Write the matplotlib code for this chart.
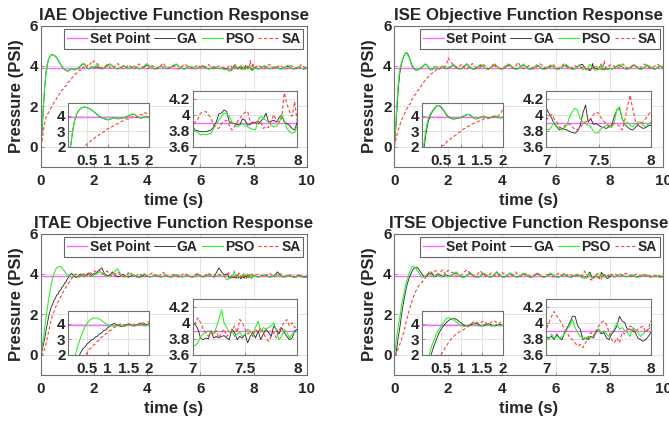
import numpy as np
import matplotlib
matplotlib.use("Agg")
import matplotlib.pyplot as plt
from matplotlib.ticker import FuncFormatter

plt.rcParams["font.family"] = ["Liberation Sans", "DejaVu Sans"]
plt.rcParams["font.weight"] = "bold"

# time segments the samples below belong to: 0-2 s, 2.1-6.9 s, 7-8 s, 8.1-10 s
SEG_SPANS = [(0.0, 2.0), (2.1, 6.9), (7.0, 8.0), (8.1, 10.0)]
SETPOINT = 3.9
TITLES = ["IAE Objective Function Response", "ISE Objective Function Response",
          "ITAE Objective Function Response", "ITSE Objective Function Response"]
LABELS = ["Set Point", "GA", "PSO", "SA"]

# ---------------- IAE ----------------
iae_ga = [
    [0, 0.8, 1.9, 2.9, 3.65, 4.08, 4.33, 4.47, 4.54, 4.56, 4.53, 4.48, 4.4, 4.3, 4.18, 4.06, 3.96, 3.88, 3.82, 3.78,
     3.74, 3.76, 3.82, 3.87, 3.85, 3.8, 3.82, 3.85, 3.88, 3.93, 3.98, 4.05, 4.1, 4.08, 3.98, 3.89, 3.85, 3.88, 3.94, 3.96, 3.9],
    [3.95, 3.9, 3.85, 3.92, 4.02, 4.1, 3.98, 3.88, 3.86, 3.92, 4.0, 3.95, 3.88, 3.9, 3.97, 3.93, 3.86, 3.9, 3.96, 4.05,
     3.98, 3.9, 3.87, 3.92, 3.98, 3.94, 3.88, 3.9, 3.95, 4.0, 4.08, 3.96, 3.9, 3.86, 3.92, 3.97, 3.93, 3.87, 3.9, 3.95,
     3.99, 3.92, 3.86, 3.89, 3.95, 3.91, 3.87, 3.9, 3.86],
    [3.85, 3.81, 3.80, 3.79, 3.79, 3.79, 3.80, 3.81, 3.85, 3.91, 4.01, 4.02, 4.06, 4.04, 3.91, 3.90, 3.89, 3.88, 3.87, 3.95,
     3.93, 3.87, 3.88, 3.91, 3.90, 3.89, 3.92, 3.95, 4.02, 3.91, 3.92, 3.93, 3.91, 3.96, 4.00, 3.91, 3.89, 3.87, 3.83, 3.81, 3.91],
    [3.9, 3.86, 3.92, 3.98, 3.93, 3.87, 3.9, 3.95, 3.92, 3.86, 3.88, 3.95, 3.98, 3.9, 3.86, 3.9, 3.94, 3.88, 3.85, 3.9],
]
iae_pso = [
    [0, 0.9, 2.0, 3.0, 3.7, 4.1, 4.35, 4.48, 4.55, 4.55, 4.52, 4.47, 4.4, 4.3, 4.2, 4.08, 3.98, 3.9, 3.83, 3.8,
     3.76, 3.78, 3.83, 3.88, 3.86, 3.82, 3.84, 3.86, 3.9, 3.95, 4.0, 4.08, 4.12, 4.1, 4.0, 3.9, 3.86, 3.9, 3.96, 3.98, 3.92],
    [4.05, 3.95, 3.85, 3.88, 3.98, 4.08, 4.0, 3.88, 3.84, 3.9, 4.02, 3.97, 3.86, 3.88, 4.0, 3.95, 3.85, 3.88, 4.02, 4.12,
     3.98, 3.88, 3.84, 3.9, 4.0, 3.95, 3.86, 3.88, 3.96, 4.04, 4.1, 3.97, 3.88, 3.84, 3.9, 3.99, 3.94, 3.85, 3.88, 3.97,
     4.02, 3.93, 3.84, 3.87, 3.98, 3.92, 3.85, 3.88, 3.82],
    [3.83, 3.80, 3.78, 3.75, 3.76, 3.75, 3.76, 3.77, 3.83, 3.89, 3.93, 3.98, 4.02, 4.01, 3.98, 3.91, 3.88, 3.85, 3.87, 3.89,
     3.87, 3.85, 3.83, 3.82, 3.81, 3.93, 3.98, 3.96, 3.93, 3.91, 3.87, 3.85, 3.86, 3.89, 4.00, 3.93, 3.83, 3.79, 3.77, 3.78, 3.87],
    [3.88, 3.84, 3.9, 4.02, 3.95, 3.85, 3.88, 3.98, 3.92, 3.84, 3.86, 3.96, 4.04, 3.9, 3.84, 3.88, 3.96, 3.88, 3.84, 3.88],
]
iae_sa = [
    [0, 0.3, 0.8, 1.2, 1.45, 1.6, 1.7, 1.85, 1.95, 2.05, 2.2, 2.25, 2.42, 2.45, 2.62, 2.65, 2.82, 2.85, 2.98, 3.0,
     3.18, 3.2, 3.3, 3.35, 3.45, 3.5, 3.6, 3.65, 3.7, 3.8, 3.78, 3.85, 3.95, 3.9, 3.88, 4.0, 4.1, 4.05, 4.2, 4.15, 4.25],
    [4.15, 4.0, 3.88, 3.95, 4.08, 3.92, 3.86, 4.0, 4.12, 3.95, 3.86, 3.9, 4.05, 3.95, 3.85, 3.92, 4.1, 3.98, 3.88, 3.85,
     3.96, 4.02, 3.9, 3.86, 3.98, 4.15, 3.95, 3.87, 3.9, 4.0, 3.92, 3.84, 3.95, 4.1, 4.02, 3.9, 3.86, 3.95, 4.05, 3.93,
     3.87, 3.98, 4.08, 3.95, 3.86, 3.9, 4.0, 3.94, 3.9],
    [3.87, 3.91, 3.95, 4.02, 4.03, 4.04, 4.00, 3.96, 3.87, 3.84, 3.83, 3.89, 3.92, 3.93, 3.87, 3.81, 3.85, 3.91, 3.95, 4.00,
     4.03, 4.04, 3.91, 3.89, 3.91, 3.92, 3.91, 3.83, 3.85, 3.84, 3.93, 4.00, 3.93, 3.91, 3.95, 4.27, 4.14, 4.04, 3.98, 4.16, 3.91],
    [3.95, 4.05, 3.9, 3.86, 3.98, 4.08, 3.92, 3.86, 3.95, 4.05, 3.92, 3.85, 3.9, 4.02, 3.95, 3.86, 3.92, 4.08, 3.95, 3.9],
]

# ---------------- ISE ----------------
ise_ga = [
    [0, 0.8, 1.9, 2.9, 3.6, 4.0, 4.25, 4.45, 4.6, 4.66, 4.6, 4.45, 4.25, 4.05, 3.92, 3.84, 3.8, 3.8, 3.82, 3.86,
     3.9, 3.96, 4.03, 4.08, 4.06, 3.97, 3.87, 3.8, 3.82, 3.88, 3.95, 3.97, 3.91, 3.85, 3.87, 3.93, 3.98, 3.94, 3.88, 3.86, 3.9],
    [3.95, 4.05, 3.95, 3.85, 3.88, 3.98, 4.08, 3.96, 3.86, 3.85, 3.94, 4.04, 3.98, 3.87, 3.85, 3.92, 4.02, 3.97, 3.88, 3.84,
     3.9, 4.0, 4.05, 3.92, 3.85, 3.87, 3.96, 4.06, 3.95, 3.86, 3.84, 3.92, 4.03, 3.96, 3.87, 3.85, 3.93, 4.02, 3.96, 3.86,
     3.84, 3.9, 4.0, 4.04, 3.92, 3.85, 3.86, 3.95, 4.05],
    [4.08, 4.02, 3.96, 3.89, 3.85, 3.81, 3.83, 3.82, 3.81, 3.79, 3.78, 3.77, 3.8, 3.87, 4.02, 4.12, 3.91, 3.95, 3.88, 3.89,
     3.87, 3.85, 3.84, 3.83, 3.85, 3.87, 3.98, 4.06, 4.08, 3.95, 3.88, 3.85, 3.82, 3.81, 3.84, 3.87, 3.85, 3.83, 3.84, 3.86, 3.87],
    [3.85, 3.9, 4.0, 4.05, 3.92, 3.85, 3.86, 3.95, 4.05, 3.95, 3.86, 3.85, 3.92, 4.03, 3.96, 3.87, 3.85, 3.93, 3.98, 3.88],
]
ise_pso = [
    [0, 1.0, 2.2, 3.2, 3.8, 4.1, 4.3, 4.5, 4.62, 4.65, 4.55, 4.4, 4.2, 4.0, 3.88, 3.82, 3.8, 3.82, 3.85, 3.88,
     3.92, 3.98, 4.05, 4.1, 4.08, 3.98, 3.88, 3.82, 3.84, 3.9, 3.96, 3.98, 3.92, 3.86, 3.88, 3.94, 4.0, 3.96, 3.9, 3.88, 3.92],
    [3.98, 4.08, 3.96, 3.84, 3.86, 3.98, 4.12, 3.98, 3.85, 3.83, 3.95, 4.08, 4.0, 3.86, 3.83, 3.92, 4.06, 3.99, 3.86, 3.82,
     3.9, 4.04, 4.08, 3.92, 3.83, 3.85, 3.97, 4.1, 3.96, 3.84, 3.83, 3.93, 4.06, 3.97, 3.85, 3.83, 3.94, 4.05, 3.98, 3.85,
     3.82, 3.9, 4.02, 4.07, 3.92, 3.83, 3.85, 3.96, 4.08],
    [3.83, 3.81, 3.85, 3.91, 3.86, 3.83, 3.81, 3.84, 3.88, 3.98, 4.04, 4.08, 4.05, 3.95, 3.91, 3.89, 3.87, 3.85, 3.8, 3.77,
     3.78, 3.83, 3.85, 3.87, 3.85, 3.84, 3.91, 4.06, 4.1, 3.96, 3.88, 3.91, 3.87, 3.85, 3.88, 3.91, 3.91, 3.87, 3.85, 3.88, 3.91],
    [3.84, 3.92, 4.04, 4.06, 3.92, 3.84, 3.85, 3.97, 4.08, 3.96, 3.84, 3.83, 3.93, 4.06, 3.97, 3.85, 3.84, 3.95, 4.0, 3.86],
]
ise_sa = [
    [0, 0.3, 0.6, 0.85, 1.05, 1.25, 1.4, 1.55, 1.7, 1.85, 1.95, 2.1, 2.12, 2.35, 2.4, 2.55, 2.6, 2.75, 2.8, 2.95,
     3.0, 3.15, 3.2, 3.3, 3.35, 3.45, 3.5, 3.6, 3.62, 3.7, 3.72, 3.8, 3.85, 3.82, 3.9, 3.95, 3.9, 3.95, 4.0, 4.1, 4.4],
    [4.2, 4.05, 3.9, 3.95, 4.1, 3.92, 3.85, 3.98, 4.12, 3.96, 3.86, 3.92, 4.08, 3.98, 3.86, 3.9, 4.15, 4.0, 3.88, 3.86,
     3.95, 4.1, 3.95, 3.87, 3.96, 4.18, 3.98, 3.88, 3.9, 4.02, 3.93, 3.85, 3.96, 4.12, 4.02, 3.9, 3.86, 3.94, 4.08, 3.95,
     3.87, 3.97, 4.1, 3.96, 3.86, 3.9, 4.02, 3.95, 3.92],
    [3.93, 3.98, 4.0, 3.95, 3.91, 3.85, 3.83, 3.86, 3.89, 3.88, 3.85, 3.81, 3.82, 3.84, 3.89, 3.91, 3.93, 3.95, 4.0, 4.03,
     4.02, 3.96, 3.92, 3.89, 3.86, 3.87, 3.89, 3.88, 3.86, 3.81, 3.93, 4.1, 4.24, 4.08, 3.93, 3.87, 3.89, 3.91, 3.95, 4.0, 4.04],
    [4.05, 3.95, 3.88, 3.96, 4.1, 3.95, 3.86, 3.92, 4.05, 3.96, 3.87, 3.95, 4.1, 3.98, 3.88, 3.92, 4.02, 4.08, 3.95, 4.0],
]

# ---------------- ITAE ----------------
itae_ga = [
    [0, 0.2, 0.5, 0.8, 1.2, 1.55, 1.9, 2.15, 2.4, 2.5, 2.7, 2.8, 2.95, 3.0, 3.15, 3.2, 3.35, 3.4, 3.55, 3.6,
     3.75, 3.85, 3.95, 4.02, 3.98, 3.9, 3.85, 3.82, 3.88, 3.95, 4.0, 3.96, 3.9, 3.88, 3.93, 4.0, 4.05, 3.98, 3.92, 3.95, 4.02],
    [4.05, 4.2, 4.3, 4.0, 3.9, 3.95, 4.1, 3.92, 3.86, 3.9, 3.98, 3.88, 3.84, 3.9, 3.95, 3.86, 3.83, 3.88, 3.96, 3.92,
     3.85, 3.88, 3.97, 3.9, 3.84, 3.87, 3.93, 3.88, 3.84, 3.9, 3.96, 3.9, 3.85, 3.88, 3.94, 3.88, 3.85, 3.9, 3.97, 3.92,
     3.86, 3.88, 3.95, 3.9, 3.86, 4.05, 4.3, 4.1, 3.95],
    [4.0, 3.98, 3.92, 3.81, 3.79, 3.81, 3.8, 3.9, 3.81, 3.83, 3.81, 3.83, 3.84, 3.81, 3.79, 3.92, 3.88, 3.79, 3.83, 3.81,
     3.86, 3.75, 3.83, 3.88, 3.81, 3.9, 3.79, 3.86, 3.92, 3.88, 3.83, 3.96, 3.92, 3.86, 3.94, 3.88, 3.83, 3.79, 3.81, 3.9, 3.92],
    [3.88, 3.85, 3.9, 3.96, 3.9, 3.85, 3.88, 3.95, 4.1, 3.95, 3.86, 3.88, 3.94, 3.9, 3.85, 3.88, 3.95, 3.9, 3.84, 3.9],
]
itae_pso = [
    [0, 0.35, 0.8, 1.35, 1.85, 2.3, 2.75, 3.15, 3.5, 3.8, 4.0, 4.18, 4.3, 4.35, 4.37, 4.36, 4.3, 4.22, 4.12, 4.02,
     3.95, 3.9, 3.86, 3.85, 3.9, 3.95, 3.92, 3.86, 3.84, 3.88, 3.95, 3.92, 3.86, 3.85, 3.9, 3.96, 3.98, 3.92, 3.86, 3.9, 3.96],
    [3.98, 4.1, 4.05, 3.92, 3.86, 3.9, 4.0, 4.15, 4.25, 3.98, 3.88, 3.85, 3.95, 4.05, 3.92, 3.84, 3.86, 3.95, 4.02, 3.9,
     3.84, 3.88, 3.98, 3.92, 3.84, 3.86, 3.96, 3.9, 3.84, 3.88, 3.97, 3.92, 3.85, 3.87, 3.94, 3.88, 3.83, 3.87, 3.95, 3.9,
     3.84, 3.87, 3.96, 3.9, 3.84, 3.88, 3.95, 3.9, 3.86],
    [3.71, 3.72, 3.75, 3.83, 3.86, 3.88, 3.9, 3.88, 3.86, 3.94, 4.04, 4.16, 4.0, 3.94, 3.88, 3.9, 3.83, 3.86, 3.88, 3.83,
     3.86, 3.92, 3.9, 3.83, 3.94, 4.02, 3.88, 3.94, 3.92, 3.94, 3.96, 4.0, 3.9, 3.79, 3.83, 3.92, 3.88, 3.81, 3.86, 3.88, 3.9],
    [3.86, 3.84, 3.9, 3.98, 3.92, 3.84, 3.86, 3.94, 3.98, 3.9, 3.84, 3.86, 3.92, 3.88, 3.83, 3.85, 3.9, 3.86, 3.82, 3.84],
]
itae_sa = [
    [0, 0, 0.1, 0.3, 0.55, 0.85, 1.15, 1.5, 1.75, 2.0, 2.12, 2.35, 2.45, 2.62, 2.7, 2.88, 2.95, 3.15, 3.2, 3.35,
     3.42, 3.55, 3.62, 3.75, 3.82, 3.92, 3.98, 4.0, 3.92, 3.86, 3.9, 3.98, 4.02, 3.95, 3.88, 3.92, 4.05, 4.1, 4.0, 4.08, 4.15],
    [4.1, 4.2, 3.98, 4.05, 4.15, 3.95, 3.88, 4.0, 4.1, 3.94, 3.86, 3.92, 4.06, 3.95, 3.86, 3.9, 4.02, 3.92, 3.85, 3.88,
     3.98, 4.05, 3.9, 3.85, 3.94, 4.08, 3.93, 3.86, 3.9, 3.98, 3.9, 3.84, 3.92, 4.05, 3.96, 3.87, 3.86, 3.95, 4.04, 3.92,
     3.86, 3.94, 4.05, 3.96, 3.86, 3.9, 3.98, 3.92, 3.88],
    [3.92, 4.0, 4.06, 4.0, 3.92, 3.88, 3.83, 3.88, 3.86, 3.9, 3.81, 3.88, 3.92, 3.83, 3.86, 3.9, 3.96, 3.88, 4.04, 4.0,
     3.92, 3.86, 3.88, 3.83, 3.92, 3.88, 3.94, 3.88, 3.81, 3.77, 3.83, 3.88, 3.81, 3.9, 3.96, 4.0, 4.04, 3.96, 4.0, 3.94, 3.96],
    [3.95, 4.0, 3.9, 3.86, 3.96, 4.05, 3.92, 3.86, 3.92, 4.02, 3.92, 3.85, 3.88, 3.96, 3.9, 3.84, 3.88, 3.92, 3.86, 3.85],
]

# ---------------- ITSE ----------------
itse_ga = [
    [0, 0, 0.4, 0.9, 1.3, 1.8, 2.25, 2.65, 3.0, 3.33, 3.58, 3.8, 3.95, 4.1, 4.22, 4.3, 4.33, 4.32, 4.25, 4.15,
     4.05, 3.95, 3.88, 3.85, 3.88, 3.95, 4.02, 4.05, 4.0, 3.92, 3.86, 3.88, 3.95, 4.0, 3.96, 3.9, 3.86, 3.9, 3.96, 3.94, 3.9],
    [3.9, 3.98, 4.05, 3.95, 3.86, 3.85, 3.92, 4.02, 3.95, 3.86, 3.84, 3.9, 4.0, 3.96, 3.87, 3.85, 3.92, 4.08, 3.96, 3.86,
     3.85, 3.93, 4.02, 3.94, 3.86, 3.85, 3.92, 4.0, 3.95, 3.86, 3.84, 3.91, 4.0, 3.95, 3.86, 3.85, 3.92, 4.0, 3.94, 3.86,
     3.84, 3.9, 3.98, 3.93, 3.86, 3.85, 3.92, 3.98, 3.9],
    [3.83, 3.81, 3.83, 3.79, 3.86, 3.81, 3.79, 3.88, 3.94, 4.0, 4.08, 4.08, 3.96, 3.92, 3.79, 3.81, 3.79, 3.83, 3.81, 3.88,
     3.92, 3.86, 3.88, 3.81, 3.79, 3.86, 3.9, 3.96, 4.08, 4.02, 4.0, 3.92, 3.92, 3.9, 3.88, 3.81, 3.79, 3.77, 3.79, 3.83, 3.88],
    [3.9, 3.86, 3.92, 3.98, 3.93, 3.86, 3.88, 3.95, 3.9, 3.85, 3.86, 3.93, 3.97, 3.9, 3.85, 3.88, 3.92, 3.87, 3.84, 3.88],
]
itse_pso = [
    [0, 0.4, 1.0, 1.45, 1.8, 2.25, 2.66, 3.0, 3.33, 3.58, 3.8, 4.0, 4.2, 4.36, 4.38, 4.35, 4.28, 4.18, 4.08, 3.98,
     3.88, 3.83, 3.85, 3.9, 3.96, 4.02, 4.0, 3.94, 3.88, 3.85, 3.88, 3.95, 4.0, 3.95, 3.88, 3.85, 3.9, 3.96, 3.93, 3.87, 3.88],
    [3.88, 4.0, 4.1, 3.96, 3.84, 3.83, 3.92, 4.08, 3.97, 3.85, 3.82, 3.9, 4.05, 3.98, 3.86, 3.83, 3.92, 4.12, 3.98, 3.85,
     3.83, 3.94, 4.06, 3.95, 3.85, 3.84, 3.93, 4.04, 3.96, 3.85, 3.83, 3.92, 4.04, 3.96, 3.85, 3.84, 3.93, 4.05, 3.95, 3.85,
     3.83, 3.9, 4.02, 3.94, 3.85, 3.84, 3.92, 4.0, 3.88],
    [3.81, 3.79, 3.86, 3.81, 3.83, 3.81, 3.83, 3.86, 3.92, 3.96, 4.04, 3.94, 3.88, 3.83, 3.81, 3.81, 3.83, 3.81, 3.83, 3.9,
     3.92, 3.88, 3.9, 3.86, 3.83, 3.88, 3.92, 4.0, 3.92, 3.94, 3.9, 3.88, 3.83, 3.94, 3.92, 3.88, 3.83, 3.86, 3.9, 3.92, 3.94],
    [3.88, 3.84, 3.92, 4.0, 3.94, 3.85, 3.86, 3.96, 3.92, 3.84, 3.85, 3.94, 3.98, 3.9, 3.84, 3.86, 3.92, 3.86, 3.83, 3.86],
]
itse_sa = [
    [0, 0, 0.15, 0.35, 0.5, 0.7, 0.9, 1.1, 1.4, 1.66, 1.92, 2.2, 2.4, 2.62, 2.82, 3.0, 3.15, 3.28, 3.4, 3.48,
     3.55, 3.62, 3.7, 3.8, 3.9, 4.02, 4.12, 4.15, 4.05, 4.0, 4.12, 4.18, 4.05, 3.95, 4.05, 4.15, 4.2, 4.08, 3.98, 4.1, 4.18],
    [4.1, 4.05, 3.9, 3.85, 3.95, 4.1, 4.2, 4.05, 3.92, 3.88, 4.0, 4.15, 3.98, 3.88, 3.9, 4.05, 3.95, 3.86, 3.92, 4.08,
     3.98, 3.87, 3.86, 3.96, 4.1, 3.95, 3.86, 3.9, 4.02, 3.94, 3.86, 3.92, 4.06, 3.96, 3.86, 3.88, 3.98, 3.92, 3.85, 3.9,
     4.04, 3.95, 3.86, 3.9, 4.0, 3.93, 3.86, 3.92, 3.95],
    [3.92, 4.0, 4.08, 4.14, 4.08, 4.04, 3.98, 3.92, 3.88, 3.81, 3.79, 3.75, 3.71, 3.73, 3.69, 3.75, 3.81, 3.88, 3.83, 3.9,
     3.96, 4.0, 4.02, 3.98, 3.88, 3.79, 3.75, 3.81, 3.75, 3.88, 3.86, 3.92, 3.96, 3.94, 3.88, 3.92, 3.94, 3.96, 3.88, 3.92, 4.02],
    [3.95, 4.02, 3.9, 3.86, 3.96, 4.04, 3.92, 3.86, 3.92, 4.0, 3.92, 3.85, 3.9, 3.98, 3.9, 3.84, 3.88, 3.95, 3.88, 3.9],
]

PANELS = [
    (iae_ga, iae_pso, iae_sa),
    (ise_ga, ise_pso, ise_sa),
    (itae_ga, itae_pso, itae_sa),
    (itse_ga, itse_pso, itse_sa),
]

COLORS = {"sp": "#ff66ff", "ga": "#222222", "pso": "#2ef02e", "sa": "#ff4040"}
TXT = "#262626"
EDGE = "#707070"
GRID = "#dedede"


def to_series(segs):
    t = np.concatenate([np.linspace(a, b, len(s)) for (a, b), s in zip(SEG_SPANS, segs)])
    y = np.concatenate([np.asarray(s, float) for s in segs])
    return t, y


def draw_lines(ax, ga, pso, sa):
    t, y_ga = to_series(ga)
    _, y_pso = to_series(pso)
    _, y_sa = to_series(sa)
    h = []
    h += ax.plot(t, np.full_like(t, SETPOINT), color=COLORS["sp"], lw=1.0)
    h += ax.plot(t, y_ga, color=COLORS["ga"], lw=0.6)
    h += ax.plot(t, y_pso, color=COLORS["pso"], lw=0.8)
    h += ax.plot(t, y_sa, color=COLORS["sa"], lw=0.8, ls=(0, (3, 2)))
    return h


def style(ax, fs):
    ax.grid(True, color=GRID, lw=0.6)
    ax.set_axisbelow(True)
    for sp in ax.spines.values():
        sp.set_color(EDGE)
        sp.set_linewidth(0.8)
    ax.tick_params(direction="in", length=2.5, width=0.5, color=EDGE,
                   labelsize=fs, labelcolor=TXT)
    ax.tick_params(axis="x", pad=5)
    ax.tick_params(axis="y", pad=2)
    fmt = FuncFormatter(lambda v, p: f"{v:g}")
    ax.xaxis.set_major_formatter(fmt)
    ax.yaxis.set_major_formatter(fmt)
    for lab in ax.get_xticklabels() + ax.get_yticklabels():
        lab.set_fontweight("bold")


W, H = 669, 422
fig = plt.figure(figsize=(W / 100, H / 100), dpi=100)


def rect(l, t, r, b):
    return [l / W, 1 - b / H, (r - l) / W, (b - t) / H]


# pixel boxes (left, top, right, bottom) for each panel
MAIN_BOX = [(40.7, 25.5, 306.7, 167), (394.3, 25.5, 663.3, 167),
            (40.7, 233.5, 306.7, 375), (394.3, 233.5, 663.3, 375)]

for i, (ga, pso, sa) in enumerate(PANELS):
    l, t, r, b = MAIN_BOX[i]
    ax = fig.add_axes(rect(l, t, r, b))
    h = draw_lines(ax, ga, pso, sa)
    ax.set_xlim(0, 10)
    ax.set_ylim(-1, 6)
    ax.set_xticks([0, 2, 4, 6, 8, 10])
    ax.set_yticks([0, 2, 4, 6])
    style(ax, 11)
    ax.set_title(TITLES[i], fontsize=12.2, fontweight="bold", color=TXT, pad=4)
    ax.set_xlabel("time (s)", fontsize=12, fontweight="bold", color=TXT, labelpad=4)
    ax.set_ylabel("Pressure (PSI)", fontsize=12, fontweight="bold", color=TXT, labelpad=4)
    leg = ax.legend(h, LABELS, loc="upper right", ncol=4, frameon=True,
                    fancybox=False, edgecolor="#404040", borderaxespad=0.25,
                    handlelength=1.5, handletextpad=0.15, columnspacing=0.3,
                    borderpad=0.2, prop={"weight": "bold", "size": 10})
    leg.get_frame().set_linewidth(0.8)
    for txt in leg.get_texts():
        txt.set_color(TXT)

    # inset: early transient
    ins1 = fig.add_axes(rect(l + 27.6, b - 63.7, l + 108.3, b - 20))
    draw_lines(ins1, ga, pso, sa)
    ins1.set_xlim(0.05, 2)
    ins1.set_ylim(2, 4.8)
    ins1.set_xticks([0.5, 1, 1.5, 2])
    ins1.set_yticks([2, 3, 4])
    style(ins1, 11)

    # inset: zoom 7-8 s
    ins2 = fig.add_axes(rect(l + 152, b - 76.5, l + 256.6, b - 20))
    draw_lines(ins2, ga, pso, sa)
    ins2.set_xlim(7, 8)
    ins2.set_ylim(3.6, 4.3)
    ins2.set_xticks([7, 7.5, 8])
    ins2.set_yticks([3.6, 3.8, 4, 4.2])
    style(ins2, 11)

fig.savefig("out.png", dpi=100)
